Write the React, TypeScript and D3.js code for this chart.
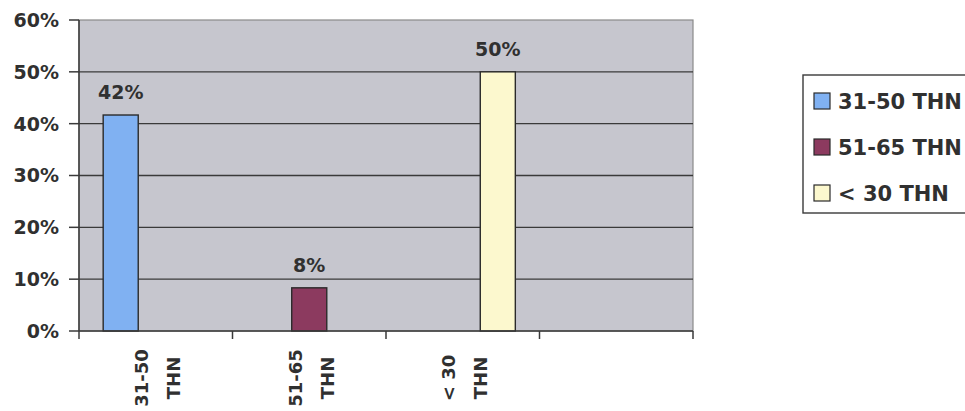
import React from "react";
import * as d3 from "d3";

const categories = ["31-50 THN", "51-65 THN", "< 30 THN", ""];
const seriesNames = ["31-50 THN", "51-65 THN", "< 30 THN"];
const seriesValues: (number | null)[][] = [
  [0.4167, null, null, null],
  [null, 0.0833, null, null],
  [null, null, 0.5, null],
];
const seriesColors = ["#80b1f2", "#8c3a5f", "#fcf8ce"];
const yTicks = [0, 0.1, 0.2, 0.3, 0.4, 0.5, 0.6];

const W = 965;
const H = 411;
const plot = { left: 79, right: 693, top: 20, bottom: 331 };
const FONT = "'DejaVu Sans', sans-serif";
const TXT = "#303030";

export default function App() {
  const x = d3
    .scaleBand<string>()
    .domain(categories.map((c, i) => String(i)))
    .range([plot.left, plot.right])
    .padding(0);
  const inner = d3
    .scaleBand<string>()
    .domain(seriesNames)
    .range([0, x.bandwidth()])
    .paddingInner(0)
    .paddingOuter(0.69);
  const y = d3.scaleLinear().domain([0, 0.6]).range([plot.bottom, plot.top]);
  const pct = d3.format(".0%");
  const boundaries = categories.map((_, i) => x(String(i))!).concat([plot.right]);

  return (
    <svg
      width={W}
      height={H}
      style={{ position: "absolute", left: 0, top: 0, background: "#ffffff" }}
    >
      <rect
        x={plot.left}
        y={plot.top}
        width={plot.right - plot.left}
        height={plot.bottom - plot.top}
        fill="#c6c6ce"
        stroke="#8a8a8a"
        strokeWidth={1.2}
      />
      {yTicks.slice(1, -1).map((t) => (
        <line
          key={t}
          x1={plot.left}
          x2={plot.right}
          y1={y(t)}
          y2={y(t)}
          stroke="#3a3a3a"
          strokeWidth={1.4}
        />
      ))}
      {/* y axis */}
      <line x1={plot.left} x2={plot.left} y1={plot.top} y2={plot.bottom} stroke="#3a3a3a" strokeWidth={1.5} />
      {yTicks.map((t) => (
        <g key={"yt" + t}>
          <line x1={plot.left - 10} x2={plot.left} y1={y(t)} y2={y(t)} stroke="#3a3a3a" strokeWidth={1.5} />
          <text
            x={plot.left - 20}
            y={y(t)}
            dy="0.36em"
            textAnchor="end"
            fontFamily={FONT}
            fontWeight="bold"
            fontSize={19}
            fill={TXT}
          >
            {pct(t)}
          </text>
        </g>
      ))}
      {/* bars */}
      {seriesValues.map((vals, si) =>
        vals.map((v, ci) => {
          if (v == null) return null;
          const bx = x(String(ci))! + inner(seriesNames[si])!;
          const bw = inner.bandwidth();
          return (
            <g key={si + "-" + ci}>
              <rect
                x={bx}
                y={y(v)}
                width={bw}
                height={y(0) - y(v)}
                fill={seriesColors[si]}
                stroke="#2a2a2a"
                strokeWidth={1.4}
              />
              <text
                x={bx + bw / 2}
                y={y(v) - 16}
                textAnchor="middle"
                fontFamily={FONT}
                fontWeight="bold"
                fontSize={19}
                fill={TXT}
              >
                {pct(v)}
              </text>
            </g>
          );
        })
      )}
      {/* x axis */}
      <line x1={plot.left} x2={plot.right} y1={plot.bottom} y2={plot.bottom} stroke="#3a3a3a" strokeWidth={1.5} />
      {boundaries.map((bx, i) => (
        <line key={"xt" + i} x1={bx} x2={bx} y1={plot.bottom} y2={plot.bottom + 8} stroke="#3a3a3a" strokeWidth={1.5} />
      ))}
      {categories.map((c, i) => {
        if (!c) return null;
        const idx = c.lastIndexOf(" ");
        const lines = [c.slice(0, idx), c.slice(idx + 1)];
        const cx = x(String(i))! + x.bandwidth() / 2;
        const offs = [-14, 18];
        return lines.map((ln, li) => (
          <text
            key={"xl" + i + li}
            transform={`translate(${cx + offs[li]},378) rotate(-90)`}
            textAnchor="middle"
            dy="0.36em"
            fontFamily={FONT}
            fontWeight="bold"
            fontSize={18}
            fill={TXT}
          >
            {ln}
          </text>
        ));
      })}
      {/* legend */}
      <rect x={803} y={75} width={175} height={138} fill="#ffffff" stroke="#3a3a3a" strokeWidth={1.4} />
      {seriesNames.map((s, i) => {
        const cy = 101 + i * 46;
        return (
          <g key={"lg" + i}>
            <rect x={814} y={cy - 8} width={16} height={16} fill={seriesColors[i]} stroke="#2a2a2a" strokeWidth={1.2} />
            <text
              x={838}
              y={cy}
              dy="0.36em"
              fontFamily={FONT}
              fontWeight="bold"
              fontSize={21}
              fill={TXT}
            >
              {s}
            </text>
          </g>
        );
      })}
    </svg>
  );
}
